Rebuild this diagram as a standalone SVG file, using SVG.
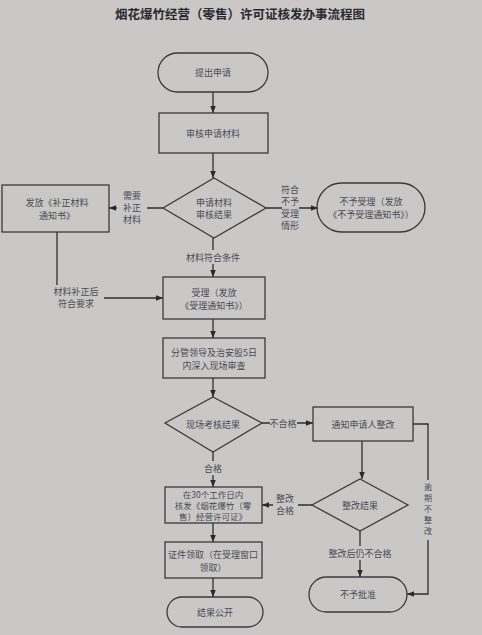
<svg xmlns="http://www.w3.org/2000/svg" width="482" height="635" viewBox="0 0 482 635">
<defs>
<marker id="ah" viewBox="0 0 10 10" refX="10" refY="5" markerWidth="7" markerHeight="7" orient="auto" markerUnits="userSpaceOnUse"><path d="M0,1 L10,5 L0,9 Z" fill="#2a2a2e"/></marker>
<style>
.s{fill:none;stroke:#3a3a40;stroke-width:1.3}
.c{fill:none;stroke:#2e2e34;stroke-width:1.3}
text{font-family:"Noto Sans CJK SC","Liberation Sans",sans-serif;font-size:9px;fill:#4a4a55;text-anchor:middle;dominant-baseline:central}
.t{font-size:12.5px;font-weight:bold;fill:#2a2a30}
.sm{font-size:8.5px}
.v{font-size:8px}
</style>
</defs>
<rect width="482" height="635" fill="#c9c8c6"/>
<text class="t" x="240" y="13">烟花爆竹经营（零售）许可证核发办事流程图</text>
<g id="connectors">
<path class="c" d="M213,92 V113" marker-end="url(#ah)"/>
<path class="c" d="M213,153 V178" marker-end="url(#ah)"/>
<path class="c" d="M163,208 H147 M117,208 H109" marker-end="url(#ah)"/>
<path class="c" d="M266,208 H282 M299,208 H318" marker-end="url(#ah)"/>
<path class="c" d="M213,238 V250 M213,264 V277" marker-end="url(#ah)"/>
<path class="c" d="M57,232 V285"/>
<path class="c" d="M104,298 H163" marker-end="url(#ah)"/>
<path class="c" d="M213,319 V338" marker-end="url(#ah)"/>
<path class="c" d="M213,378 V397" marker-end="url(#ah)"/>
<path class="c" d="M262,423 H270 M297,423 H313" marker-end="url(#ah)"/>
<path class="c" d="M213,452 V461 M213,475 V487" marker-end="url(#ah)"/>
<path class="c" d="M362,441 V479" marker-end="url(#ah)"/>
<path class="c" d="M312,505 H298 M273,505 H262" marker-end="url(#ah)"/>
<path class="c" d="M360,531 V546 M360,560 V577" marker-end="url(#ah)"/>
<path class="c" d="M413,424 H428 V480 M428,540 V594 H407" marker-end="url(#ah)"/>
<path class="c" d="M213,523 V542" marker-end="url(#ah)"/>
<path class="c" d="M213,578 V597" marker-end="url(#ah)"/>
</g>
<g id="n-start"><rect class="s" x="158" y="53" width="110" height="39" rx="19.5"/><text x="213" y="72.5">提出申请</text></g>
<g id="n-review"><rect class="s" x="159" y="113" width="109" height="40"/><text x="213" y="133">审核申请材料</text></g>
<g id="n-check"><path class="s" d="M214,178 L266,208 L214,238 L163,208 Z"/><text x="214" y="202">申请材料</text><text x="214" y="214">审核结果</text></g>
<g id="n-supplement"><rect class="s" x="2" y="185" width="107" height="47"/><text x="57" y="202">发放《补正材料</text><text x="57" y="215">通知书》</text></g>
<g id="l-need"><text x="132" y="195">需要</text><text x="132" y="207">补正</text><text x="132" y="219">材料</text></g>
<g id="l-refuse"><text x="290" y="189">符合</text><text x="290" y="201">不予</text><text x="290" y="213">受理</text><text x="290" y="225">情形</text></g>
<g id="n-reject"><rect class="s" x="317" y="183" width="108" height="49" rx="24.5"/><text x="371" y="201">不予受理（发放</text><text x="371" y="214">《不予受理通知书》）</text></g>
<g id="l-ok"><text x="213" y="257">材料符合条件</text></g>
<g id="l-fixed"><text x="76" y="291">材料补正后</text><text x="76" y="303">符合要求</text></g>
<g id="n-accept"><rect class="s" x="163" y="277" width="102" height="42"/><text x="214" y="292">受理（发放</text><text x="214" y="305">《受理通知书》）</text></g>
<g id="n-inspect"><rect class="s" x="163" y="338" width="102" height="40"/><text x="214" y="352">分管领导及治安股5日</text><text x="214" y="365">内深入现场审查</text></g>
<g id="n-result"><path class="s" d="M213,397 L262,423 L213,452 L165,423 Z"/><text x="213" y="424">现场考核结果</text></g>
<g id="l-fail"><text x="283" y="423">不合格</text></g>
<g id="l-pass"><text x="213" y="468">合格</text></g>
<g id="n-notify"><rect class="s" x="313" y="407" width="100" height="34"/><text x="363" y="424">通知申请人整改</text></g>
<g id="n-issue"><rect class="s" x="165" y="487" width="97" height="36"/><text class="sm" x="213" y="494">在30个工作日内</text><text class="sm" x="213" y="505">核发《烟花爆竹（零</text><text class="sm" x="213" y="516">售）经营许可证》</text></g>
<g id="n-fix"><path class="s" d="M360,479 L408,505 L360,531 L312,505 Z"/><text x="360" y="505">整改结果</text></g>
<g id="l-fixok"><text x="285" y="498">整改</text><text x="285" y="510">合格</text></g>
<g id="l-fixfail"><text x="360" y="553">整改后仍不合格</text></g>
<g id="l-overdue"><text class="v" x="428" y="486">逾</text><text class="v" x="428" y="497">期</text><text class="v" x="428" y="508">不</text><text class="v" x="428" y="519">整</text><text class="v" x="428" y="530">改</text></g>
<g id="n-deny"><rect class="s" x="309" y="577" width="98" height="35" rx="17.5"/><text x="358" y="594.5">不予批准</text></g>
<g id="n-collect"><rect class="s" x="165" y="542" width="97" height="36"/><text x="213" y="554">证件领取（在受理窗口</text><text x="213" y="567">领取）</text></g>
<g id="n-public"><rect class="s" x="167" y="597" width="96" height="30" rx="15"/><text x="215" y="612">结果公开</text></g>
</svg>
